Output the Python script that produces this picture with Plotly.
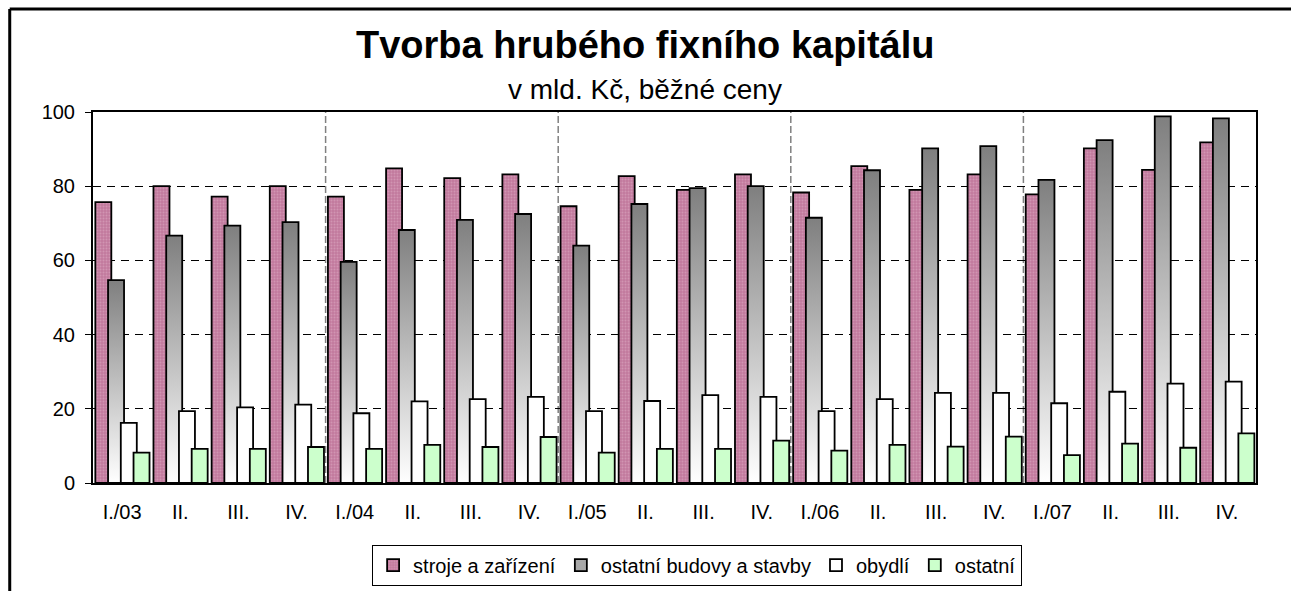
import plotly.graph_objects as go

categories = ["I./03", "II.", "III.", "IV.",
              "I./04", "II.", "III.", "IV.",
              "I./05", "II.", "III.", "IV.",
              "I./06", "II.", "III.", "IV.",
              "I./07", "II.", "III.", "IV."]
series_names = ["stroje a zařízení", "ostatní budovy a stavby", "obydlí", "ostatní"]
stroje = [75.7, 80.0, 77.2, 80.0, 77.2, 84.8, 82.2, 83.2, 74.6, 82.7,
          79.0, 83.2, 78.3, 85.4, 79.0, 83.2, 77.8, 90.2, 84.4, 91.8]
budovy = [54.7, 66.7, 69.4, 70.3, 59.6, 68.2, 70.9, 72.5, 64.0, 75.2,
          79.5, 80.0, 71.5, 84.3, 90.2, 90.8, 81.7, 92.4, 98.8, 98.3]
obydli = [16.2, 19.4, 20.4, 21.1, 18.8, 22.0, 22.6, 23.2, 19.4, 22.1,
          23.7, 23.2, 19.4, 22.6, 24.3, 24.3, 21.5, 24.6, 26.8, 27.3]
ostatni = [8.2, 9.2, 9.2, 9.7, 9.2, 10.3, 9.7, 12.4, 8.2, 9.2,
           9.2, 11.4, 8.7, 10.3, 9.8, 12.5, 7.5, 10.6, 9.5, 13.4]
y_ticks = [0, 20, 40, 60, 80, 100]

FONT = "Arial, Liberation Sans, sans-serif"
xs = list(range(len(categories)))
W = 0.275
OFFS = [-0.46, -0.241, -0.022, 0.197]
LINE = dict(color="black", width=1.8)

fig = go.Figure()

# layer 1 (main axes): pink bars + gradient fills for gray bars
fig.add_trace(go.Bar(
    x=xs, y=stroje, name=series_names[0], width=W, offset=OFFS[0],
    marker=dict(color="#c27a9d", line=LINE,
                pattern=dict(shape=".", fillmode="overlay", fgcolor="#e0b0c7",
                             size=3, solidity=0.35)),
    xaxis="x", yaxis="y", legendrank=1))
# legend proxy for the gradient series
fig.add_trace(go.Bar(
    x=[None], y=[None], name=series_names[1],
    marker=dict(color="#a8a8a8", line=LINE),
    xaxis="x", yaxis="y", legendrank=2))
for xi, v in zip(xs, budovy):
    x0 = xi + OFFS[1]
    x1 = x0 + W
    fig.add_trace(go.Scatter(
        x=[x0, x1, x1, x0, x0], y=[0, 0, v, v, 0],
        mode="lines", line=dict(width=0), fill="toself",
        fillgradient=dict(type="vertical",
                          colorscale=[[0, "#ffffff"], [1, "#7f7f7f"]]),
        showlegend=False, hoverinfo="skip", xaxis="x", yaxis="y"))

# layer 2 (overlay axes): gray outlines, white and green bars
fig.add_trace(go.Bar(
    x=xs, y=budovy, width=W, offset=OFFS[1], showlegend=False,
    marker=dict(color="rgba(0,0,0,0)", line=LINE),
    xaxis="x2", yaxis="y2"))
fig.add_trace(go.Bar(
    x=xs, y=obydli, name=series_names[2], width=W, offset=OFFS[2],
    marker=dict(color="#ffffff", line=LINE),
    xaxis="x2", yaxis="y2", legendrank=3))
fig.add_trace(go.Bar(
    x=xs, y=ostatni, name=series_names[3], width=W, offset=OFFS[3],
    marker=dict(color="#ccffcc", line=LINE),
    xaxis="x2", yaxis="y2", legendrank=4))

xr = [-0.5, len(categories) - 0.5]
yr = [0, 100]

# year separators
shapes = []
for k in range(4, len(categories), 4):
    shapes.append(dict(type="line", xref="x", yref="y", x0=k - 0.5, x1=k - 0.5,
                       y0=0, y1=100, layer="below",
                       line=dict(color="#808080", width=1.5, dash="7px,3px")))
# outer chart frame: only the left and top edges fall inside the page
FRAME = dict(color="black", width=3)
shapes.append(dict(type="line", xref="paper", yref="paper",
                   x0=-0.0716, x1=-0.0716, y0=-0.5, y1=1.2774,
                   line=FRAME, layer="above"))
shapes.append(dict(type="line", xref="paper", yref="paper",
                   x0=-0.0716, x1=1.2, y0=1.2774, y1=1.2774,
                   line=FRAME, layer="above"))

# figure is a little taller than the 591px window; the extra strip is hidden
fig.update_layout(
    width=1291, height=605,
    margin=dict(l=93, r=35, t=112, b=122),
    paper_bgcolor="white", plot_bgcolor="white",
    barmode="overlay",
    font=dict(family=FONT, size=20, color="black"),
    showlegend=True,
    legend=dict(orientation="h", x=0.24, xanchor="left", y=-0.166, yanchor="top",
                bordercolor="black", borderwidth=1, bgcolor="white",
                font=dict(size=20, family=FONT), traceorder="normal",
                itemwidth=30, tracegroupgap=0),
    xaxis=dict(range=xr, tickmode="array", tickvals=xs, ticktext=categories,
               showgrid=False, zeroline=False, showline=True, linecolor="black",
               linewidth=2, mirror=True, ticks="", ticklabelstandoff=10,
               tickfont=dict(size=20), automargin=False),
    yaxis=dict(range=yr, tickmode="array", tickvals=y_ticks,
               showgrid=True, gridcolor="black", gridwidth=1, griddash="8px,6px",
               zeroline=False, showline=True, linecolor="black", linewidth=2,
               mirror=True, ticks="outside", ticklen=6, tickcolor="black",
               ticklabelstandoff=6, tickfont=dict(size=20), automargin=False),
    xaxis2=dict(range=xr, overlaying="x", visible=False),
    yaxis2=dict(range=yr, overlaying="y", visible=False),
    shapes=shapes,
    annotations=[
        dict(text="<b>Tvorba hrubého fixního kapitálu</b>", xref="paper", yref="paper",
             x=0.4746, y=1.1805, xanchor="center", yanchor="middle", showarrow=False,
             font=dict(size=38, family=FONT)),
        dict(text="v mld. Kč, běžné ceny", xref="paper", yref="paper",
             x=0.4746, y=1.0593, xanchor="center", yanchor="middle", showarrow=False,
             font=dict(size=28, family=FONT)),
    ],
)

fig.write_html("out.html", config={"displayModeBar": False},
               post_script="document.body.style.margin='0';"
                           "document.body.style.overflow='hidden';")
